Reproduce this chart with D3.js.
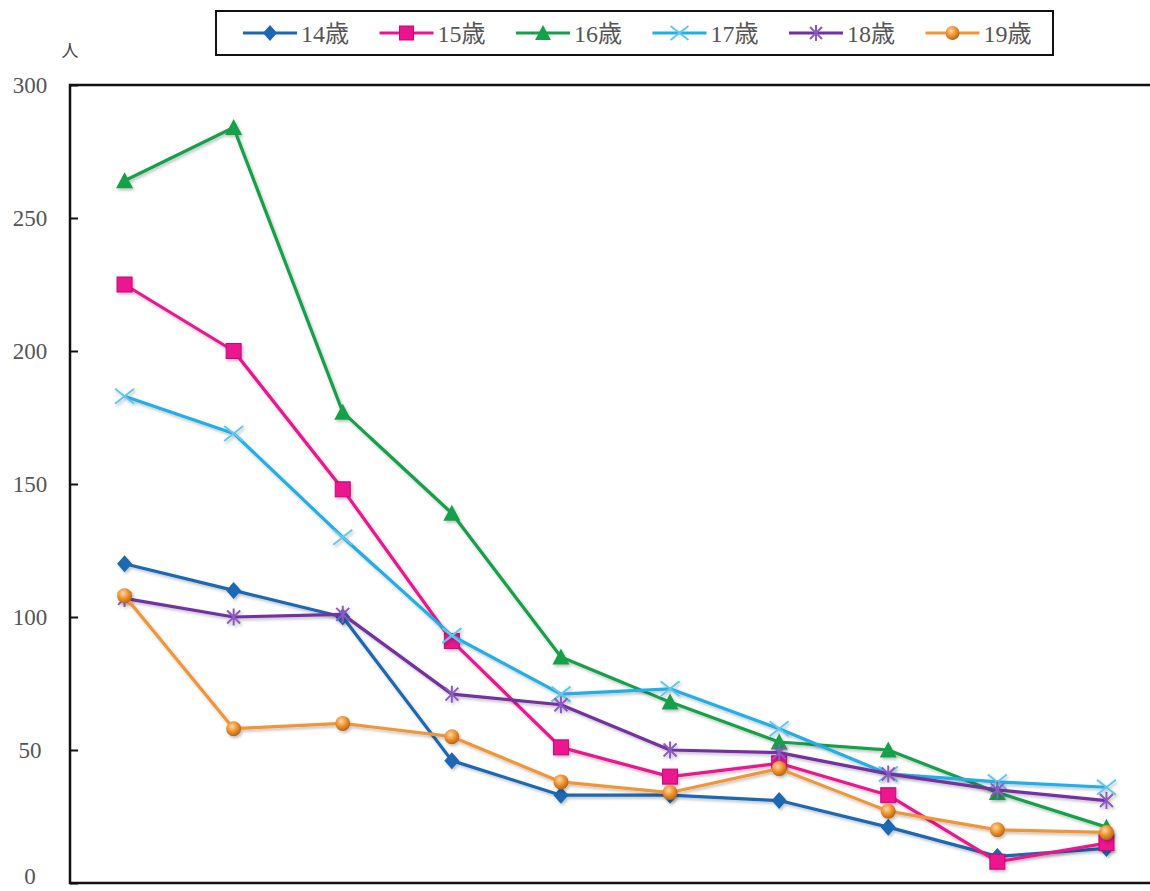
<!DOCTYPE html>
<html><head><meta charset="utf-8">
<script src="https://cdn.jsdelivr.net/npm/d3@7/dist/d3.min.js"></script>
<style>body{margin:0;background:#fff;overflow:hidden}</style>
</head><body>
<script>
const categories = ["1","2","3","4","5","6","7","8","9","10"];
const seriesNames = ["14歳","15歳","16歳","17歳","18歳","19歳"];
const s14 = [120,110,100,46,33,33,31,21,10,13];
const s15 = [225,200,148,91,51,40,45,33,8,15];
const s16 = [264,284,177,139,85,68,53,50,34,21];
const s17 = [183,169,130,93,71,73,58,41,38,36];
const s18 = [107,100,101,71,67,50,49,41,35,31];
const s19 = [108,58,60,55,38,34,43,27,20,19];
const yTicks = [0,50,100,150,200,250,300];
const unitLabel = "人";

const seriesValues = [s14,s15,s16,s17,s18,s19];
const colors = ["#1b67b2","#ec148e","#17a04a","#20aee6","#7330a0","#f19637"];
const shapes = ["diamond","square","triangle","x","asterisk","circle"];

const W = 1150, H = 891;
const M = {left:70, top:85, right:1161, bottom:883};
const svg = d3.select("body").append("svg").attr("width",W).attr("height",H);
const defs = svg.append("defs");
const f = defs.append("filter").attr("id","sh").attr("x","-20%").attr("y","-20%").attr("width","140%").attr("height","140%");
f.append("feDropShadow").attr("dx",1.5).attr("dy",2).attr("stdDeviation",1.5).attr("flood-color","#000").attr("flood-opacity",0.25);
const g = defs.append("radialGradient").attr("id","orb").attr("cx","40%").attr("cy","35%").attr("r","65%");
g.append("stop").attr("offset","0%").attr("stop-color","#ffd9a0");
g.append("stop").attr("offset","50%").attr("stop-color","#f19637");
g.append("stop").attr("offset","100%").attr("stop-color","#b86510");

const x = d3.scaleBand().domain(categories).range([M.left, M.right]);
const y = d3.scaleLinear().domain([0,300]).range([M.bottom, M.top]);
const cx = c => x(c) + x.bandwidth()/2;

const font = "'Liberation Serif','Noto Sans CJK JP',serif";

// frame
svg.append("rect").attr("x",M.left).attr("y",M.top).attr("width",M.right-M.left).attr("height",M.bottom-M.top)
  .attr("fill","none").attr("stroke","#111").attr("stroke-width",2.5);

// y axis
const ya = svg.append("g").attr("transform",`translate(${M.left},0)`)
  .call(d3.axisRight(y).tickValues(yTicks).tickSize(8).tickFormat(""));
ya.select(".domain").remove();
ya.selectAll("line").attr("stroke","#111").attr("stroke-width",2);
svg.append("g").selectAll("text").data(yTicks).join("text")
  .attr("x",30).attr("y",d=>Math.min(y(d)+8, 884)).attr("text-anchor","middle")
  .attr("font-family",font).attr("font-size",23).attr("fill","#555").text(d=>d);
svg.append("text").attr("x",70).attr("y",57).attr("text-anchor","middle")
  .attr("font-family","'Noto Sans CJK JP',sans-serif").attr("font-size",17).attr("fill","#444").text(unitLabel);

// x axis (no visible labels)
const xa = svg.append("g").attr("transform",`translate(0,${M.bottom})`)
  .call(d3.axisBottom(x).tickSize(0).tickFormat(""));
xa.select(".domain").remove();

function marker(sel, shape, color, s){
  const r = s/2;
  if(shape==="diamond") sel.append("path").attr("d",`M0,${-r-1}L${r},0L0,${r+1}L${-r},0Z`).attr("fill",color);
  else if(shape==="square") sel.append("rect").attr("x",-r).attr("y",-r).attr("width",s).attr("height",s).attr("fill",color).attr("stroke","#c00a78").attr("stroke-width",1);
  else if(shape==="triangle") sel.append("path").attr("d",`M0,${-r-1}L${r+1},${r}L${-r-1},${r}Z`).attr("fill",color);
  else if(shape==="x") sel.append("path").attr("d",`M${-r-2},${-r}L${r+2},${r}M${-r-2},${r}L${r+2},${-r}`).attr("stroke","#63c6ee").attr("stroke-width",2).attr("fill","none");
  else if(shape==="asterisk") sel.append("path").attr("d",`M${-r+1},${-r+1}L${r-1},${r-1}M${-r+1},${r-1}L${r-1},${-r+1}M0,${-r-1}L0,${r+1}`).attr("stroke","#8a5cc0").attr("stroke-width",2).attr("fill","none");
  else if(shape==="circle") sel.append("circle").attr("r",r).attr("fill","url(#orb)");
}

const line = d3.line().x((d,i)=>cx(categories[i])).y(d=>y(d));
seriesValues.forEach((vals,k)=>{
  const gs = svg.append("g").attr("filter","url(#sh)");
  gs.append("path").datum(vals).attr("d",line).attr("fill","none").attr("stroke",colors[k]).attr("stroke-width",3.2).attr("stroke-linejoin","round");
  vals.forEach((v,i)=>{
    const m = gs.append("g").attr("transform",`translate(${cx(categories[i])},${y(v)})`);
    marker(m, shapes[k], colors[k], 15);
  });
});

// legend
svg.append("rect").attr("x",216).attr("y",11).attr("width",837).attr("height",44).attr("fill","#fff").attr("stroke","#111").attr("stroke-width",2);
const lg = svg.append("g");
seriesNames.forEach((n,k)=>{
  const x0 = 243 + k*136.5;
  const it = lg.append("g").attr("transform",`translate(${x0},33)`);
  it.append("line").attr("x1",0).attr("x2",54).attr("stroke",colors[k]).attr("stroke-width",3.2);
  const m = it.append("g").attr("transform","translate(27,0)");
  marker(m, shapes[k], colors[k], 14);
  it.append("text").attr("x",58).attr("y",9).attr("font-family",font).attr("font-size",24).attr("fill","#555").text(n);
});
</script>
</body></html>
